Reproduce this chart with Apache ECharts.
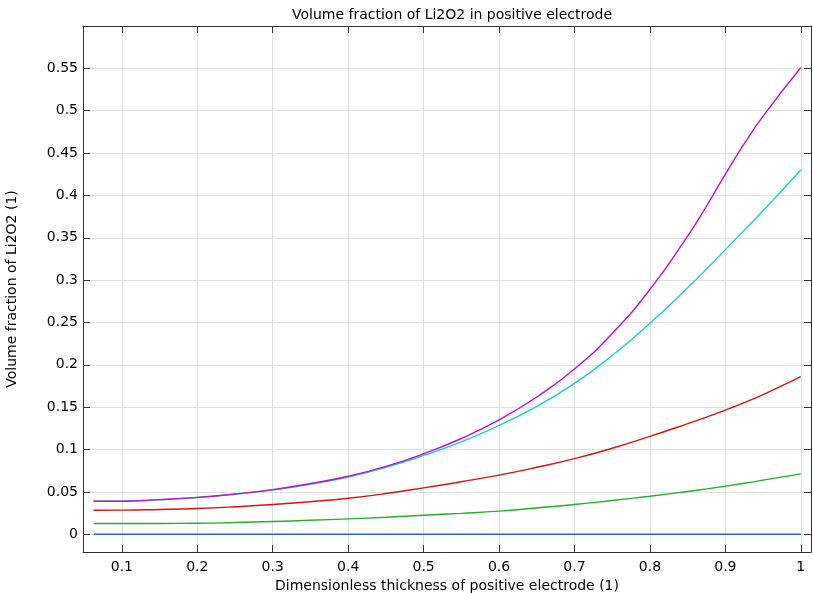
<!DOCTYPE html>
<html>
<head>
<meta charset="utf-8">
<title>Volume fraction of Li2O2 in positive electrode</title>
<script src="https://cdn.jsdelivr.net/npm/echarts@6/dist/echarts.min.js"></script>
<style>
  html, body { margin: 0; padding: 0; background: #fff; overflow: hidden; }
  #chart { width: 813px; height: 593px; }
</style>
</head>
<body>
<div id="chart"></div>
<script>
  // x positions (dimensionless thickness)
  const xValues = [0.0625, 0.1, 0.15, 0.2, 0.25, 0.3, 0.35, 0.4, 0.45, 0.5,
                   0.55, 0.6, 0.65, 0.7, 0.75, 0.8, 0.85, 0.875, 0.9, 0.925, 0.95, 1.0];
  // volume fraction curves
  const blueVals   = [0, 0, 0, 0, 0, 0, 0, 0, 0, 0,
                      0, 0, 0, 0, 0, 0, 0, 0, 0, 0, 0, 0];
  const greenVals  = [0.0126, 0.0126, 0.0127, 0.0129, 0.0138, 0.015, 0.0164, 0.0181, 0.020, 0.0224,
                      0.0246, 0.0272, 0.031, 0.035, 0.0398, 0.0449, 0.0505, 0.0535, 0.0567, 0.0601, 0.0638, 0.0713];
  const redVals    = [0.0283, 0.0284, 0.0292, 0.0304, 0.0324, 0.035, 0.0384, 0.0425, 0.048, 0.0547,
                      0.062, 0.0698, 0.079, 0.0892, 0.1015, 0.1155, 0.1305, 0.1383, 0.1465, 0.1553, 0.1648, 0.186];
  const cyanVals   = [0.0389, 0.039, 0.0407, 0.0433, 0.0472, 0.0522, 0.059, 0.0675, 0.079, 0.093,
                      0.109, 0.1285, 0.151, 0.178, 0.211, 0.249, 0.291, 0.313, 0.336, 0.359, 0.382, 0.43];
  const purpleVals = [0.0389, 0.039, 0.0408, 0.0435, 0.0475, 0.0527, 0.0598, 0.0684, 0.080, 0.095,
                      0.113, 0.135, 0.162, 0.195, 0.237, 0.289, 0.352, 0.3875, 0.425, 0.461, 0.4935, 0.551];

  const xRange = [0.0485, 1.0135];
  const yRange = [-0.021, 0.6];

  const font = 'DejaVu Sans';
  const axisColor = '#333';

  function pairs(vals) {
    let out = [];
    for (let i = 0; i < xValues.length; i++) {
      out.push([xValues[i], vals[i]]);
    }
    return out;
  }

  // hide the labels ECharts puts at the ends of the extent
  function xLabel(v) {
    if (v < 0.09 || v > 1.005) return '';
    return String(+v.toFixed(2));
  }
  function yLabel(v) {
    if (v < -0.001 || v > 0.575) return '';
    return String(+v.toFixed(2));
  }

  function line(name, color, vals) {
    return {
      name: name,
      type: 'line',
      data: pairs(vals),
      smooth: 0.5,
      showSymbol: false,
      lineStyle: { color: color, width: 1.4 },
      itemStyle: { color: color },
      animation: false
    };
  }

  let chart = echarts.init(document.getElementById('chart'));
  chart.setOption({
    backgroundColor: '#fff',
    animation: false,
    title: {
      text: 'Volume fraction of Li2O2 in positive electrode',
      left: 447,
      textAlign: 'center',
      top: 3,
      textStyle: { fontFamily: font, fontSize: 14, fontWeight: 'normal', color: '#000' }
    },
    grid: { left: 83, right: 2, top: 26, bottom: 41, outerBoundsMode: 'none', containLabel: false },
    xAxis: [{
      type: 'value',
      position: 'bottom',
      min: xRange[0],
      max: xRange[1],
      splitNumber: 10,
      name: 'Dimensionless thickness of positive electrode (1)',
      nameLocation: 'middle',
      nameGap: 25,
      nameTextStyle: { fontFamily: font, fontSize: 14, color: '#000' },
      axisLine: { show: true, onZero: false, lineStyle: { color: axisColor, width: 1 } },
      axisTick: { show: true, inside: true, length: 7, lineStyle: { color: axisColor } },
      axisLabel: { fontFamily: font, fontSize: 14, color: '#000', margin: 8, formatter: xLabel },
      splitLine: { show: true, lineStyle: { color: '#e0e0e0', width: 1 } }
    }, {
      type: 'value',
      position: 'top',
      min: xRange[0],
      max: xRange[1],
      splitNumber: 10,
      axisLine: { show: true, onZero: false, lineStyle: { color: axisColor, width: 1 } },
      axisTick: { show: true, inside: true, length: 7, lineStyle: { color: axisColor } },
      axisLabel: { show: false },
      splitLine: { show: false }
    }],
    yAxis: [{
      type: 'value',
      position: 'left',
      min: yRange[0],
      max: yRange[1],
      splitNumber: 12,
      name: 'Volume fraction of Li2O2 (1)',
      nameLocation: 'middle',
      nameGap: 64,
      nameTextStyle: { fontFamily: font, fontSize: 14, color: '#000' },
      axisLine: { show: true, onZero: false, lineStyle: { color: axisColor, width: 1 } },
      axisTick: { show: true, inside: true, length: 7, lineStyle: { color: axisColor } },
      axisLabel: { fontFamily: font, fontSize: 14, color: '#000', margin: 5, formatter: yLabel },
      splitLine: { show: true, lineStyle: { color: '#e0e0e0', width: 1 } }
    }, {
      type: 'value',
      position: 'right',
      min: yRange[0],
      max: yRange[1],
      splitNumber: 12,
      axisLine: { show: true, onZero: false, lineStyle: { color: axisColor, width: 1 } },
      axisTick: { show: true, inside: true, length: 7, lineStyle: { color: axisColor } },
      axisLabel: { show: false },
      splitLine: { show: false }
    }],
    series: [
      line('1', '#2f5fe8', blueVals),
      line('2', '#22b02e', greenVals),
      line('3', '#e01010', redVals),
      line('4', '#12d2d6', cyanVals),
      line('5', '#c012c8', purpleVals)
    ]
  });
</script>
</body>
</html>
